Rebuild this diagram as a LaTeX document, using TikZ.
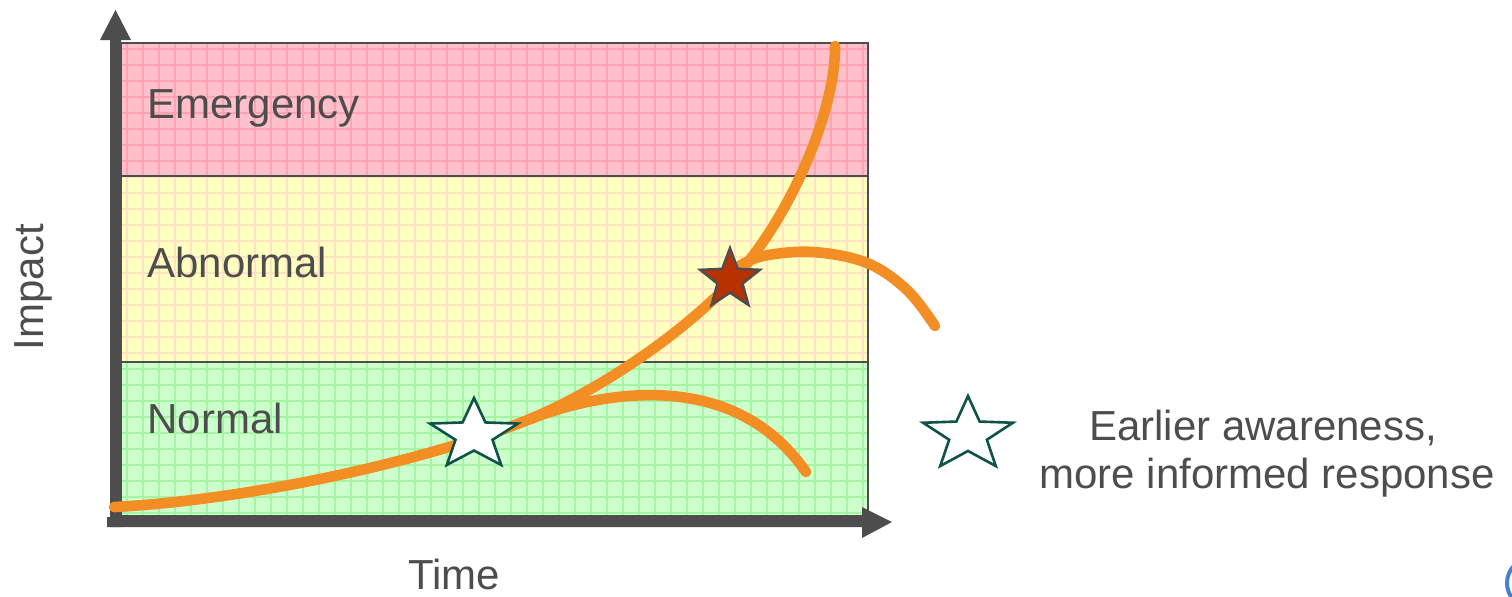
\documentclass[tikz,border=0pt]{standalone}
\usepackage{fontspec}
\setmainfont{Liberation Sans}
\definecolor{axisgray}{HTML}{4D4D4D}
\definecolor{txtgray}{HTML}{4D4D4D}
\definecolor{pinkfill}{HTML}{FFC0CB}
\definecolor{pinkgrid}{HTML}{FFA3B3}
\definecolor{yelfill}{HTML}{FFFFC0}
\definecolor{yelgrid}{HTML}{FFE2C2}
\definecolor{grnfill}{HTML}{CCFFCC}
\definecolor{grngrid}{HTML}{A3F5A3}
\definecolor{curveorange}{HTML}{F28E24}
\definecolor{starred}{HTML}{B83200}
\definecolor{starteal}{HTML}{0E5248}
\definecolor{logoblue}{HTML}{4A7FD0}
\newcommand\mystar[5]{%
  \path[#5, shift={(#1,#2)}, xscale=#4*#3, yscale=#3]
    (270:1) -- (306:0.42) -- (342:1) -- (18:0.42) -- (54:1) -- (90:0.42)
    -- (126:1) -- (162:0.42) -- (198:1) -- (234:0.42) -- cycle;}
\begin{document}
\begin{tikzpicture}[x=0.5pt,y=-0.5pt,
  bandborder/.style={draw=axisgray, line width=1.2pt},
  gridline/.style={line width=1pt},
  curve/.style={draw=curveorange, line width=5.3pt, line cap=round, line join=round},
  label/.style={text=txtgray, font=\fontsize{21}{24}\selectfont, inner sep=0pt},
  axisfill/.style={fill=axisgray},
  whitestar/.style={fill=white, draw=starteal, line width=1.3pt},
  redstar/.style={fill=starred, draw=axisgray, line width=1.2pt}]
\useasboundingbox (0,0) rectangle (1512,596);
% bands
\fill[pinkfill] (121,43) rectangle (868,176);
\fill[yelfill] (121,176) rectangle (868,362);
\fill[grnfill] (121,362) rectangle (868,516);
\begin{scope}
  \clip (121,43) rectangle (868,176);
  \foreach \gx in {0,...,46} \draw[gridline, pinkgrid] ({127+16*\gx},43) -- ({127+16*\gx},176);
  \foreach \gy in {0,...,8} \draw[gridline, pinkgrid] (121,{49+16*\gy}) -- (868,{49+16*\gy});
\end{scope}
\begin{scope}
  \clip (121,176) rectangle (868,362);
  \foreach \gx in {0,...,46} \draw[gridline, yelgrid] ({127+16*\gx},176) -- ({127+16*\gx},362);
  \foreach \gy in {8,...,20} \draw[gridline, yelgrid] (121,{49+16*\gy}) -- (868,{49+16*\gy});
\end{scope}
\begin{scope}
  \clip (121,362) rectangle (868,516);
  \foreach \gx in {0,...,46} \draw[gridline, grngrid] ({127+16*\gx},362) -- ({127+16*\gx},516);
  \foreach \gy in {19,...,30} \draw[gridline, grngrid] (121,{49+16*\gy}) -- (868,{49+16*\gy});
\end{scope}
\draw[bandborder] (121,43) rectangle (868,176);
\draw[bandborder] (121,176) rectangle (868,362);
\draw[bandborder] (121,362) rectangle (868,516);
% axes
\path[axisfill] (110,527) -- (110,40) -- (100,40) -- (115.5,10) -- (131,40) -- (121,40) -- (121,527) -- cycle;
\path[axisfill] (107,517) -- (862,517) -- (862,507) -- (892,522) -- (862,538) -- (862,527) -- (107,527) -- cycle;
% labels
\node[label, anchor=base west] (emer) at (147,118) {Emergency};
\node[label, anchor=base west] (abn) at (147,277) {Abnormal};
\node[label, anchor=base west] (norm) at (147,433) {Normal};
\node[label, anchor=base, rotate=90] (impact) at (43,287) {Impact};
\node[label, anchor=base] (time) at (454,589) {Time};
\node[label, anchor=base] (leg1) at (1263,440) {Earlier awareness,};
\node[label, anchor=base] (leg2) at (1267,488) {more informed response};
% curves
\coordinate (c0) at (114,507);
\coordinate (c1) at (530,419);
\coordinate (c2) at (730,283);
\coordinate (c3) at (835,46);
\draw[curve] (c0) .. controls (250,500) and (430,460) .. (c1)
  .. controls (600,390) and (680,335) .. (c2)
  .. controls (790,220) and (836,110) .. (c3);
\coordinate (b1s) at (528,420);
\coordinate (b1e) at (806,472);
\draw[curve] (b1s) .. controls (590,395) and (730,362) .. (b1e);
\draw[curve] plot[smooth, tension=0.6] coordinates {(738,267) (763,256) (813,252) (867,263) (907,290) (935,326)};
% stars
\mystar{474}{435}{37}{1.25}{whitestar}
\mystar{730}{279.5}{31.5}{1}{redstar}
\mystar{968}{434.7}{38.7}{1.22}{whitestar}
% logo fragment
\draw[logoblue, line width=2pt] (1532,583) circle[radius=25];
\end{tikzpicture}
\end{document}
